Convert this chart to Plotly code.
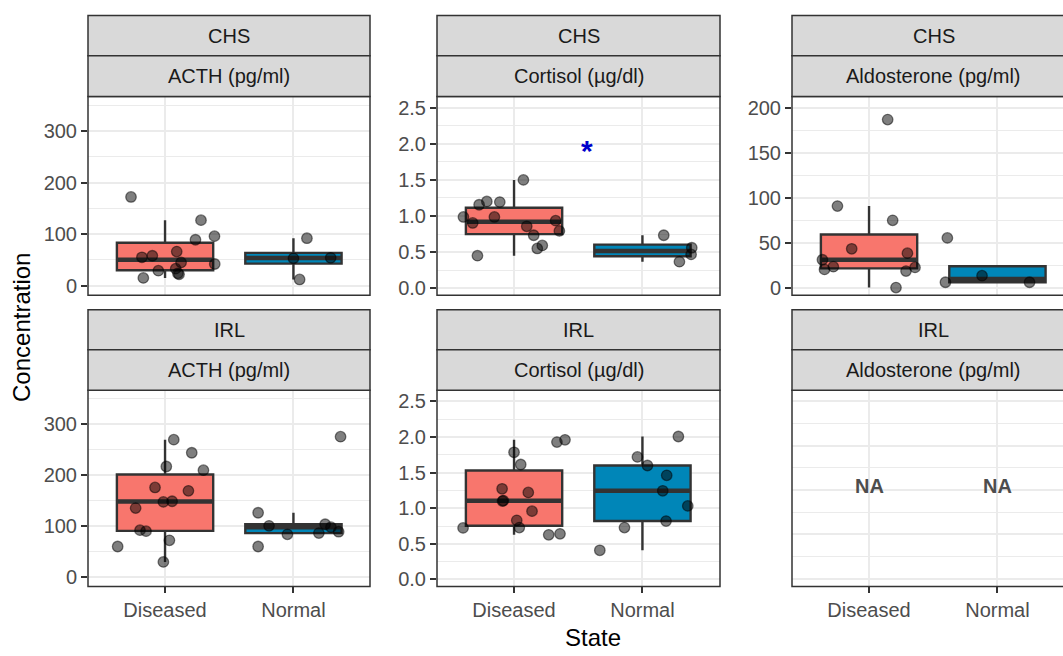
import numpy as np
import plotly.graph_objects as go

# ---------------- data ----------------
states = ["Diseased", "Normal"]
groups = ["CHS", "IRL"]
hormones = ["ACTH (pg/ml)", "Cortisol (µg/dl)", "Aldosterone (pg/ml)"]

chs_acth_dis = [172, 127, 96, 89, 66, 55, 58, 45, 42, 29, 33, 22, 24, 15]
chs_acth_dis_jit = [-0.265, 0.28, 0.385, 0.237, 0.091, -0.18, -0.099, 0.125, 0.387, -0.052, 0.083, 0.109, 0.1, -0.169]
chs_acth_nor = [92, 53, 54, 12]
chs_acth_nor_jit = [0.105, 0.0, 0.29, 0.048]

chs_cort_dis = [0.986, 0.903, 1.155, 1.201, 1.192, 0.986, 0.45, 1.499, 0.857, 0.733, 0.55, 0.592, 0.935, 0.793]
chs_cort_dis_jit = [-0.394, -0.322, -0.272, -0.212, -0.111, -0.153, -0.285, 0.073, 0.099, 0.153, 0.181, 0.22, 0.324, 0.353]
chs_cort_nor = [0.733, 0.56, 0.468, 0.367]
chs_cort_nor_jit = [0.166, 0.384, 0.379, 0.288]

chs_aldo_dis = [186.7, 90.6, 74.7, 43.1, 38.2, 30.9, 20.2, 23.2, 18.3, 22.4, 0]
chs_aldo_dis_jit = [0.145, -0.246, 0.184, -0.135, 0.299, -0.363, -0.347, -0.278, 0.288, 0.358, 0.21]
chs_aldo_nor = [55.2, 5.9, 13.2, 5.9]
chs_aldo_nor_jit = [-0.39, -0.405, -0.12, 0.25]

irl_acth_dis = [270, 244.3, 217.2, 210, 176, 169.4, 147.6, 148.9, 135.4, 92.1, 90.1, 72.1, 60, 29.6]
irl_acth_dis_jit = [0.068, 0.208, 0.01, 0.299, -0.078, 0.182, -0.013, 0.055, -0.229, -0.195, -0.148, 0.034, -0.369, -0.013]
irl_acth_nor = [275.8, 126.3, 100.6, 83.8, 86.3, 103.7, 97.9, 89, 60]
irl_acth_nor_jit = [0.367, -0.275, -0.19, -0.047, 0.198, 0.247, 0.292, 0.352, -0.275]

irl_cort_dis = [0.724, 1.785, 1.614, 1.928, 1.96, 1.273, 1.222, 1.107, 1.10, 0.959, 0.83, 0.728, 0.627, 0.641]
irl_cort_dis_jit = [-0.397, 0.0, 0.052, 0.334, 0.397, -0.093, 0.111, -0.083, -0.09, 0.14, 0.021, 0.041, 0.27, 0.358]
irl_cort_nor = [2.007, 1.72, 1.6, 1.462, 1.245, 1.033, 0.82, 0.728, 0.41]
irl_cort_nor_jit = [0.28, -0.039, 0.039, 0.189, 0.158, 0.353, 0.184, -0.14, -0.332]

# IRL aldosterone: no data (NA)
na_label = "NA"
signif_label = "*"

# ---------------- styling / layout ----------------
W, H = 1063, 656
FONT = "Liberation Sans, Arial, Helvetica, sans-serif"
FILL = {"Diseased": "#F8766D", "Normal": "#0086B8"}
DARK = "#333333"
GRID = "#EBEBEB"

col_px = [(88, 370), (437, 720), (792, 1075)]
row_px = [(97, 297), (392.7, 590)]
strip_px = [((15.5, 56), (56, 97)), ((311.7, 351.8), (351.8, 392.7))]
yranges = [[-18.5, 367], [-0.097, 2.655], [-8.5, 212.5]]
ydticks = [(100, 50), (0.5, 0.25), (50, 25)]
yformats = ["d", ".1f", "d"]
PXU = 128.4  # pixels per category unit


def px_x(p):
    return p / W


def px_y(p):
    return 1 - p / H


def box_stats(v):
    a = np.sort(np.asarray(v, float))
    q1, med, q3 = np.percentile(a, [25, 50, 75])
    iqr = q3 - q1
    lo = a[a >= q1 - 1.5 * iqr].min()
    hi = a[a <= q3 + 1.5 * iqr].max()
    return q1, med, q3, min(lo, q1), max(hi, q3)


panels = [
    (0, 0, chs_acth_dis, chs_acth_dis_jit, chs_acth_nor, chs_acth_nor_jit),
    (0, 1, chs_cort_dis, chs_cort_dis_jit, chs_cort_nor, chs_cort_nor_jit),
    (0, 2, chs_aldo_dis, chs_aldo_dis_jit, chs_aldo_nor, chs_aldo_nor_jit),
    (1, 0, irl_acth_dis, irl_acth_dis_jit, irl_acth_nor, irl_acth_nor_jit),
    (1, 1, irl_cort_dis, irl_cort_dis_jit, irl_cort_nor, irl_cort_nor_jit),
]

fig = go.Figure()

for (r, c, dis, dj, nor, nj) in panels:
    k = r * 3 + c + 1
    xa, ya = f"x{k}", f"y{k}"
    # boxes
    for pos, st, vals in [(0, "Diseased", dis), (1, "Normal", nor)]:
        q1, med, q3, lo, hi = box_stats(vals)
        fig.add_trace(go.Box(
            x=[pos], q1=[q1], median=[med], q3=[q3], lowerfence=[lo], upperfence=[hi],
            width=0.75, whiskerwidth=0, boxpoints=False, fillcolor=FILL[st],
            line=dict(color=DARK, width=2.4), xaxis=xa, yaxis=ya,
            showlegend=False, hoverinfo="skip"))
        fig.add_trace(go.Scatter(
            x=[pos - 0.375, pos + 0.375], y=[med, med], mode="lines",
            line=dict(color=DARK, width=4.5), xaxis=xa, yaxis=ya,
            showlegend=False, hoverinfo="skip"))
    # jittered points
    for pos, vals, jit in [(0, dis, dj), (1, nor, nj)]:
        fig.add_trace(go.Scatter(
            x=[pos + j for j in jit], y=vals, mode="markers",
            marker=dict(size=10.5, color="rgba(0,0,0,0.5)",
                        line=dict(color="rgba(0,0,0,0.5)", width=1.3)),
            xaxis=xa, yaxis=ya, showlegend=False, hoverinfo="skip"))

# empty panel (IRL aldosterone) needs a trace to show its axes
fig.add_trace(go.Scatter(x=[0, 1], y=[None, None], mode="markers",
                         xaxis="x6", yaxis="y6", showlegend=False, hoverinfo="skip"))

layout = dict(
    width=W, height=H, margin=dict(l=0, r=0, t=0, b=0),
    paper_bgcolor="white", plot_bgcolor="white",
    font=dict(family=FONT, size=20, color="#4D4D4D"),
    showlegend=False,
)

shapes = []
annotations = []
for r in range(2):
    for c in range(3):
        k = r * 3 + c + 1
        L, R = col_px[c]
        T, B = row_px[r]
        xr_right = -0.6 + (min(R, W) - L) / PXU
        layout[f"xaxis{k}"] = dict(
            domain=[px_x(L), min(1.0, px_x(R))], anchor=f"y{k}",
            range=[-0.6, xr_right], tickmode="array", tickvals=[0, 1], ticktext=states,
            showgrid=True, gridcolor=GRID, gridwidth=1.5, zeroline=False, showline=False,
            ticks="outside" if r == 1 else "", ticklen=6, tickwidth=1.5, tickcolor=DARK,
            showticklabels=(r == 1), tickfont=dict(size=20, color="#4D4D4D", family=FONT),
        )
        major, minor = ydticks[c]
        show_y = not (r == 1 and c == 2)
        layout[f"yaxis{k}"] = dict(
            domain=[px_y(B), px_y(T)], anchor=f"x{k}", range=yranges[c],
            tickmode="linear", tick0=0, dtick=major, tickformat=yformats[c],
            showgrid=True, gridcolor=GRID, gridwidth=1.5, zeroline=False, showline=False,
            minor=dict(dtick=minor, tick0=0, showgrid=True, gridcolor=GRID, gridwidth=0.9),
            ticks="outside" if show_y else "", ticklen=6, tickwidth=1.5, tickcolor=DARK,
            showticklabels=show_y, tickfont=dict(size=20, color="#4D4D4D", family=FONT),
        )
        # panel border
        shapes.append(dict(type="rect", xref="paper", yref="paper",
                           x0=px_x(L), x1=px_x(R), y0=px_y(B), y1=px_y(T),
                           line=dict(color=DARK, width=1.5), fillcolor="rgba(0,0,0,0)",
                           layer="above"))
        # strips
        labels = [groups[r], hormones[c]]
        for (s0, s1), lab in zip(strip_px[r], labels):
            shapes.append(dict(type="rect", xref="paper", yref="paper",
                               x0=px_x(L), x1=px_x(R), y0=px_y(s1), y1=px_y(s0),
                               line=dict(color=DARK, width=1.5), fillcolor="#D9D9D9",
                               layer="above"))
            annotations.append(dict(xref="paper", yref="paper",
                                    x=px_x((L + R) / 2), y=px_y((s0 + s1) / 2),
                                    text=lab, showarrow=False, xanchor="center", yanchor="middle",
                                    font=dict(size=20, color="#1A1A1A", family=FONT)))

# NA labels in empty panel
for pos in [0, 1]:
    annotations.append(dict(xref="x6", yref="y6", x=pos, y=105, text=f"<b>{na_label}</b>",
                            showarrow=False, xanchor="center", yanchor="middle",
                            font=dict(size=20, color="#4D4D4D", family=FONT)))

# significance marker
annotations.append(dict(xref="x2", yref="y2", x=0.57, y=1.9, text=f"<b>{signif_label}</b>",
                        showarrow=False, xanchor="center", yanchor="middle",
                        font=dict(size=30, color="#0000CC", family=FONT)))

# axis titles
annotations.append(dict(xref="paper", yref="paper", x=px_x(593), y=0.0,
                        text="State", showarrow=False, xanchor="center", yanchor="bottom",
                        borderpad=0, font=dict(size=24, color="black", family=FONT)))
annotations.append(dict(xref="paper", yref="paper", x=px_x(22), y=px_y(330),
                        text="Concentration", showarrow=False, xanchor="center", yanchor="middle",
                        textangle=-90, font=dict(size=24, color="black", family=FONT)))

layout["shapes"] = shapes
layout["annotations"] = annotations
fig.update_layout(**layout)

fig.write_html("out.html", config={"displayModeBar": False},
               post_script="document.body.style.margin='0px';document.body.style.overflow='hidden';")
